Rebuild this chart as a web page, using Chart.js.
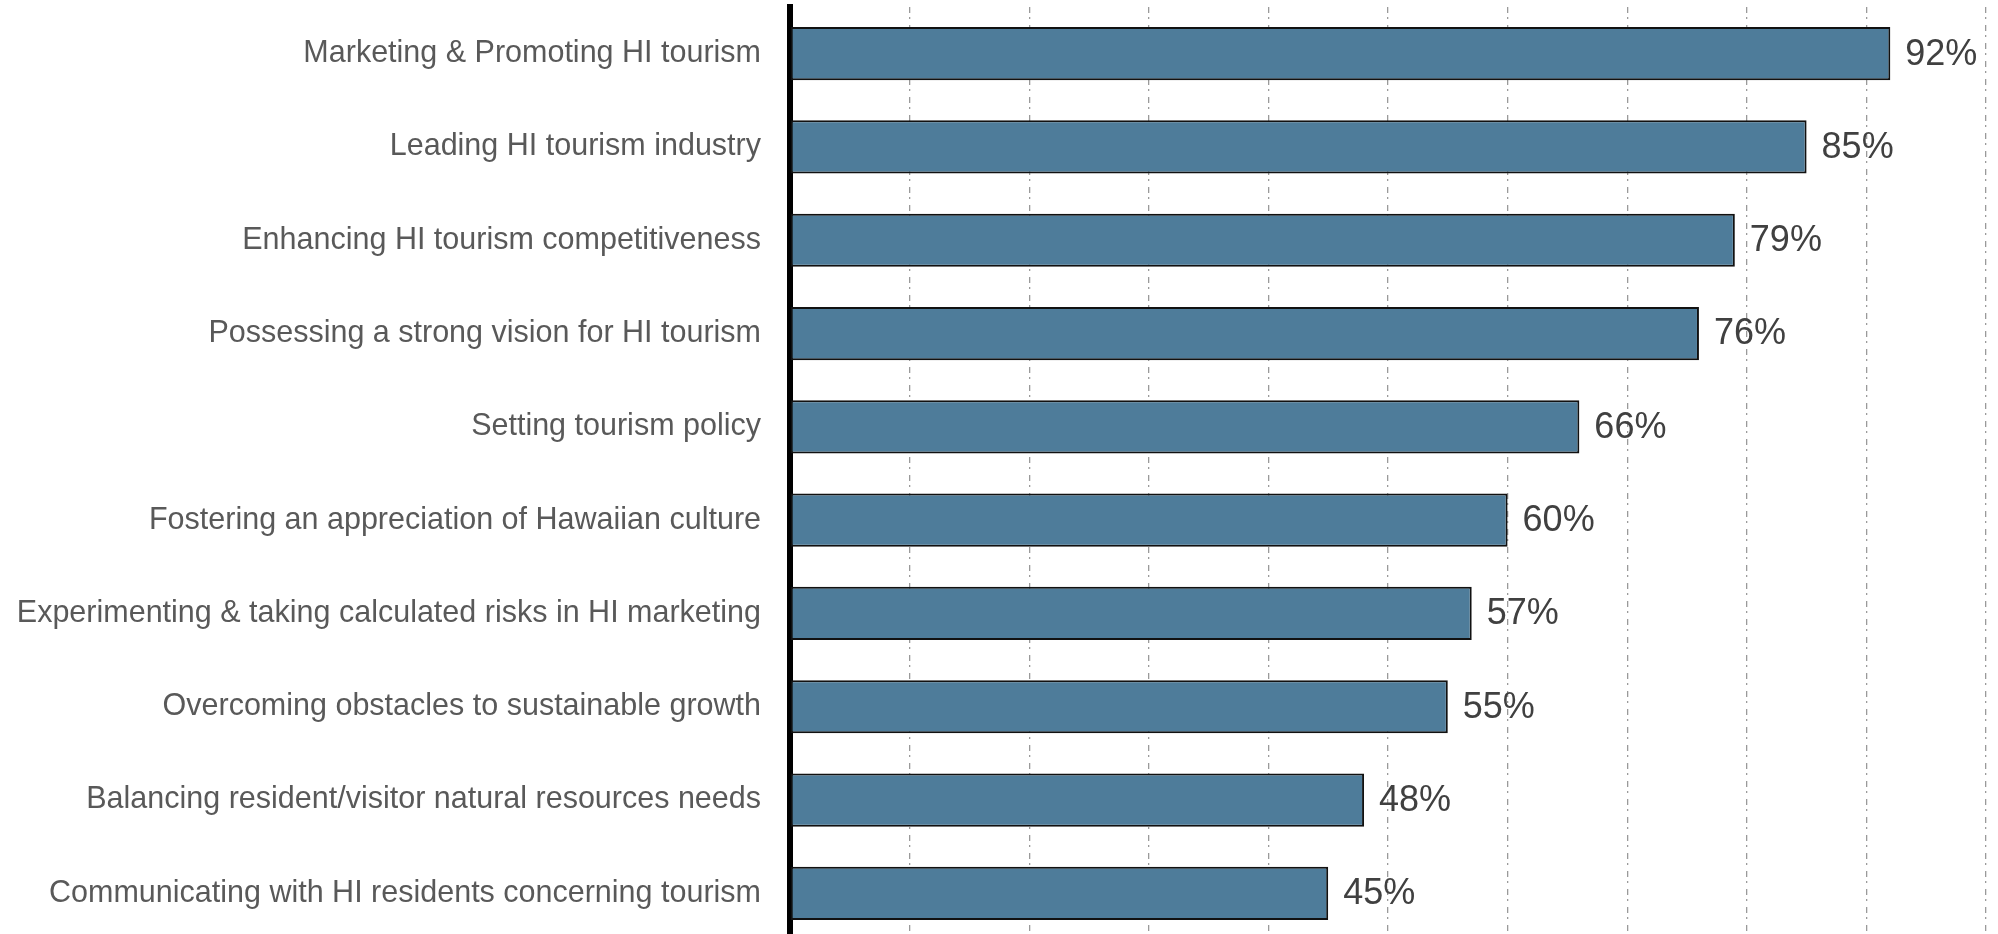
<!DOCTYPE html>
<html>
<head>
<meta charset="utf-8">
<script src="https://cdn.jsdelivr.net/npm/chart.js@4/dist/chart.umd.min.js"></script>
<style>
  html, body { margin: 0; padding: 0; background: #fff; overflow: hidden; }
  #wrap { position: relative; width: 1998px; height: 940px; }
</style>
</head>
<body>
<div id="wrap"><canvas id="chart"></canvas></div>
<script>
// Data
const categories = [
    "Marketing & Promoting HI tourism",
    "Leading HI tourism industry",
    "Enhancing HI tourism competitiveness",
    "Possessing a strong vision for HI tourism",
    "Setting tourism policy",
    "Fostering an appreciation of Hawaiian culture",
    "Experimenting & taking calculated risks in HI marketing",
    "Overcoming obstacles to sustainable growth",
    "Balancing resident/visitor natural resources needs",
    "Communicating with HI residents concerning tourism"
];
const values = [92, 85, 79, 76, 66, 60, 57, 55, 48, 45];
const xTicks = [0, 10, 20, 30, 40, 50, 60, 70, 80, 90, 100];

// draws the "92%" labels at the end of each bar
const valueLabels = {
    id: 'valueLabels',
    afterDatasetsDraw(chart) {
        const ctx = chart.ctx;
        const meta = chart.getDatasetMeta(0);
        ctx.save();
        ctx.font = '36px "Liberation Sans", Arial, sans-serif';
        ctx.fillStyle = '#404040';
        ctx.textAlign = 'left';
        ctx.textBaseline = 'middle';
        meta.data.forEach((bar, i) => {
            ctx.fillText(values[i] + '%', bar.x + 15, bar.y + 1);
        });
        ctx.restore();
    }
};

const ctx = document.getElementById('chart').getContext('2d');
new Chart(ctx, {
    type: 'bar',
    data: {
        labels: categories,
        datasets: [{
            data: values,
            backgroundColor: '#4e7c9a',
            borderColor: '#111',
            borderWidth: 2,
            borderSkipped: false,
            barPercentage: 0.57,
            categoryPercentage: 1
        }]
    },
    options: {
        indexAxis: 'y',
        responsive: true,
        maintainAspectRatio: false,
        animation: false,
        events: [],
        layout: { padding: { top: 7, right: 12, bottom: 0, left: 0 } },
        plugins: {
            legend: { display: false },
            tooltip: { enabled: false }
        },
        scales: {
            x: {
                min: 0,
                max: 100,
                afterBuildTicks(scale) {
                    scale.ticks = xTicks.map(v => ({ value: v }));
                },
                ticks: { display: false },
                border: { display: false, dash: [6, 4, 2, 6] },
                grid: {
                    drawTicks: false,
                    color: ctx => ctx.tick && ctx.tick.value === 0 ? 'rgba(0,0,0,0)' : '#9a9a9a',
                    lineWidth: 1.3
                }
            },
            y: {
                afterFit(scale) {
                    scale.width = 790;
                    scale.paddingTop = 0;
                    scale.paddingBottom = 0;
                },
                grid: { display: false, drawTicks: false },
                border: { display: true, color: '#000', width: 6 },
                ticks: {
                    padding: 29,
                    color: '#595959',
                    font: { family: '"Liberation Sans", Arial, sans-serif', size: 30.5 }
                }
            }
        }
    },
    plugins: [valueLabels]
});
</script>
</body>
</html>
